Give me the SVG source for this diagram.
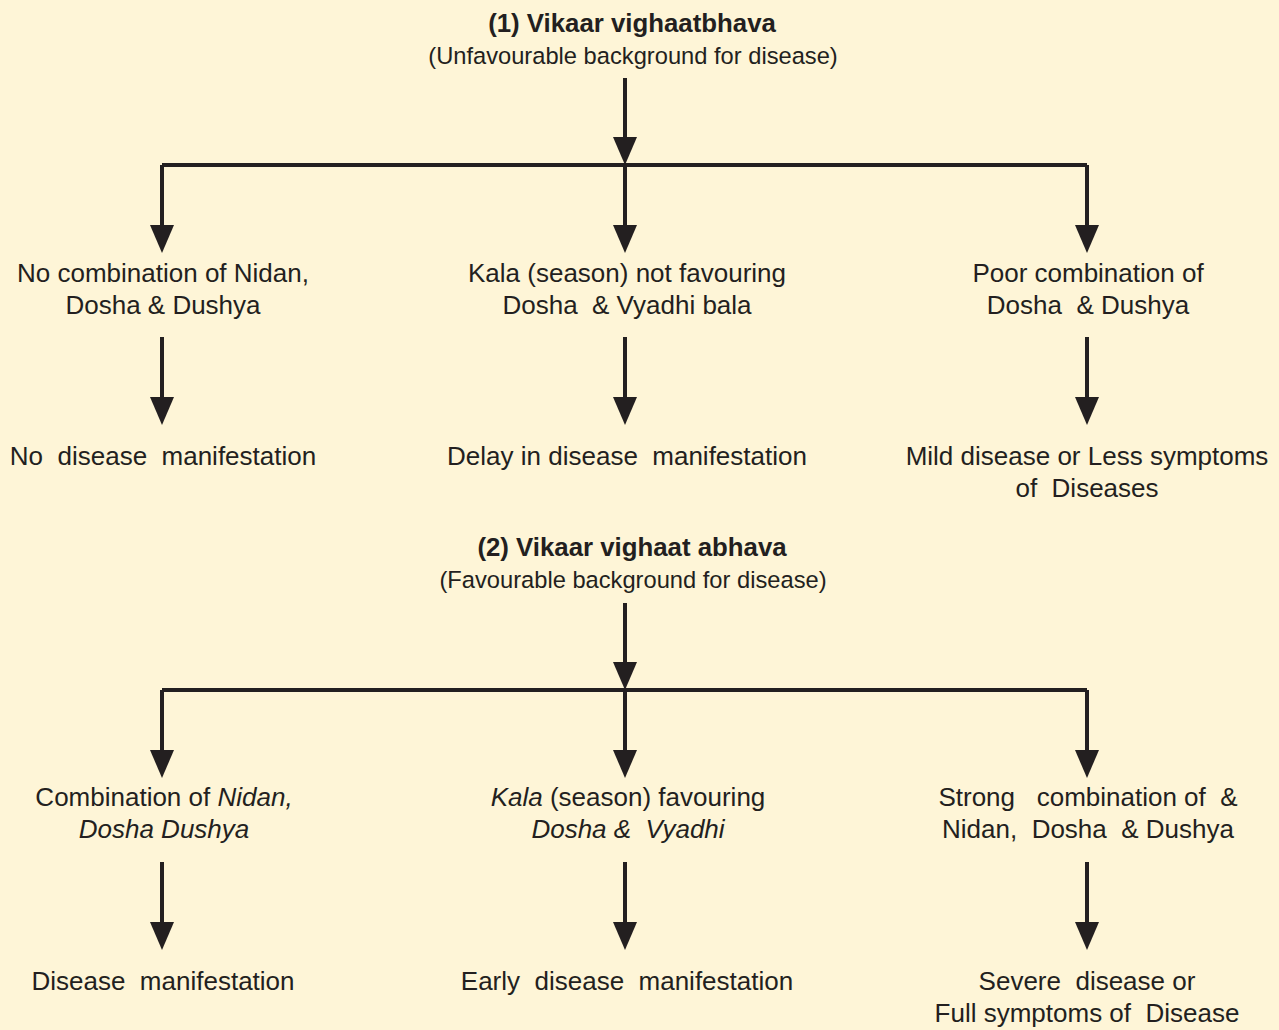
<svg xmlns="http://www.w3.org/2000/svg" width="1279" height="1030" viewBox="0 0 1279 1030">
<style>
text{font-family:"Liberation Sans",Arial,sans-serif;fill:#231f20;text-anchor:middle;white-space:pre;font-size:26px}
.t{font-weight:bold;font-size:25.8px}
.s{font-size:23.7px}
.i{font-style:italic}
.ln{stroke:#231f20;stroke-width:4;fill:none}
.ah{fill:#231f20}
</style>
<defs>
<path id="ah" d="M-12,-28 L12,-28 L0,0 Z"/>
</defs>
<rect width="1279" height="1030" fill="#fef5d7"/>
<g id="connectors">
<path class="ln" d="M625,78V140 M162,165H1087 M162,165V228 M625,165V228 M1087,165V228"/>
<path class="ln" d="M162,337V400 M625,337V400 M1087,337V400"/>
<path class="ln" d="M625,603V665 M162,690H1087 M162,690V752 M625,690V752 M1087,690V752"/>
<path class="ln" d="M162,862V924 M625,862V924 M1087,862V924"/>
<use href="#ah" class="ah" x="625" y="165"/>
<use href="#ah" class="ah" x="162" y="253"/>
<use href="#ah" class="ah" x="625" y="253"/>
<use href="#ah" class="ah" x="1087" y="253"/>
<use href="#ah" class="ah" x="162" y="425"/>
<use href="#ah" class="ah" x="625" y="425"/>
<use href="#ah" class="ah" x="1087" y="425"/>
<use href="#ah" class="ah" x="625" y="690"/>
<use href="#ah" class="ah" x="162" y="778"/>
<use href="#ah" class="ah" x="625" y="778"/>
<use href="#ah" class="ah" x="1087" y="778"/>
<use href="#ah" class="ah" x="162" y="950"/>
<use href="#ah" class="ah" x="625" y="950"/>
<use href="#ah" class="ah" x="1087" y="950"/>
</g>
<g id="title1">
<text class="t" x="632" y="32">(1) Vikaar vighaatbhava</text>
<text class="s" x="633" y="64">(Unfavourable background for disease)</text>
</g>
<g id="n1a"><text x="163" y="282">No combination of Nidan,</text><text x="163" y="314">Dosha &amp; Dushya</text></g>
<g id="n1b"><text x="627" y="282">Kala (season) not favouring</text><text x="627" y="314">Dosha  &amp; Vyadhi bala</text></g>
<g id="n1c"><text x="1088" y="282">Poor combination of</text><text x="1088" y="314">Dosha  &amp; Dushya</text></g>
<g id="r1a"><text x="163" y="465">No  disease  manifestation</text></g>
<g id="r1b"><text x="627" y="465">Delay in disease  manifestation</text></g>
<g id="r1c"><text x="1087" y="465">Mild disease or Less symptoms</text><text x="1087" y="497">of  Diseases</text></g>
<g id="title2">
<text class="t" x="632" y="556">(2) Vikaar vighaat abhava</text>
<text class="s" x="633" y="588">(Favourable background for disease)</text>
</g>
<g id="n2a"><text x="164" y="806">Combination of <tspan class="i">Nidan,</tspan></text><text class="i" x="164" y="838">Dosha Dushya</text></g>
<g id="n2b"><text x="628" y="806"><tspan class="i">Kala</tspan> (season) favouring</text><text class="i" x="628" y="838">Dosha &amp;  Vyadhi</text></g>
<g id="n2c"><text x="1088" y="806">Strong   combination of  &amp;</text><text x="1088" y="838">Nidan,  Dosha  &amp; Dushya</text></g>
<g id="r2a"><text x="163" y="990">Disease  manifestation</text></g>
<g id="r2b"><text x="627" y="990">Early  disease  manifestation</text></g>
<g id="r2c"><text x="1087" y="990">Severe  disease or</text><text x="1087" y="1022">Full symptoms of  Disease</text></g>
</svg>
